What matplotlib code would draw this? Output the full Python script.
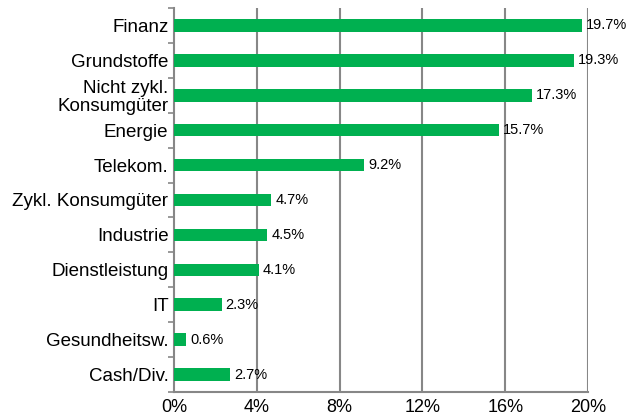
import matplotlib
matplotlib.use("Agg")
import matplotlib.pyplot as plt
import numpy as np

categories = ["Finanz", "Grundstoffe", "Nicht zykl.\nKonsumgüter", "Energie", "Telekom.",
              "Zykl. Konsumgüter", "Industrie", "Dienstleistung", "IT", "Gesundheitsw.", "Cash/Div."]
values = [19.7, 19.3, 17.3, 15.7, 9.2, 4.7, 4.5, 4.1, 2.3, 0.6, 2.7]
value_labels = ["19.7%", "19.3%", "17.3%", "15.7%", "9.2%", "4.7%", "4.5%", "4.1%", "2.3%", "0.6%", "2.7%"]
xticks = [0, 4, 8, 12, 16, 20]
xtick_labels = ["0%", "4%", "8%", "12%", "16%", "20%"]

plt.rcParams['font.family'] = ['Liberation Sans', 'DejaVu Sans']

fig = plt.figure(figsize=(6.29, 4.16), dpi=100)
ax = fig.add_axes([174/629, 24/416, (588-174)/629, (392-8)/416])

n = len(categories)
y = np.arange(n)
green = "#00B050"
grey = "#878787"

ax.barh(y, values, height=0.36, color=green, zorder=3)
for yi, v, lab in zip(y, values, value_labels):
    ax.text(v + 0.2, yi, lab, va="center", ha="left", fontsize=10.5, color="black", zorder=4)

ax.set_xlim(0, 20)
ax.set_ylim(n - 0.5, -0.5)
ax.set_xticks(xticks)
ax.set_xticklabels(xtick_labels, fontsize=13)
ax.set_yticks(y)
ax.set_yticklabels(categories, fontsize=13.5, linespacing=1.05)
ax.set_yticks(np.arange(n + 1) - 0.5, minor=True)

ax.tick_params(axis="y", which="major", length=0, pad=4)
ax.tick_params(axis="y", which="minor", length=4, width=1.2, color=grey, direction="out")
ax.tick_params(axis="x", which="major", length=0, pad=5)

for s in ["top", "right"]:
    ax.spines[s].set_visible(False)
for s in ["left", "bottom"]:
    ax.spines[s].set_color(grey)
    ax.spines[s].set_linewidth(1.5)

for xv in xticks[1:]:
    ax.axvline(xv, color=grey, linewidth=1.5, zorder=1)

fig.savefig("out.png", dpi=100)
